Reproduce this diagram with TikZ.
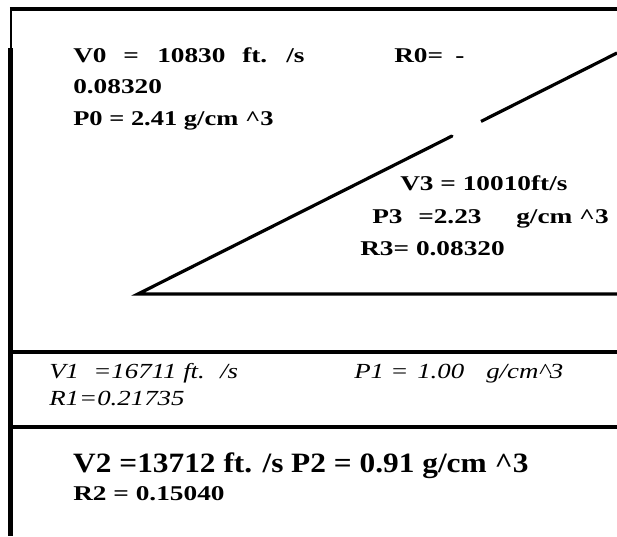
\documentclass[tikz,border=0pt]{standalone}
\usepackage{fontspec}
\setmainfont{Liberation Serif}
\usetikzlibrary{calc}
\begin{document}
\begin{tikzpicture}[x=1pt,y=-1pt,
  ln/.style={line width=3.2pt},
  bt/.style={anchor=base west, inner sep=0pt, font=\bfseries\fontsize{21}{21}\selectfont, xscale=1.3},
  it/.style={anchor=base west, inner sep=0pt, font=\itshape\fontsize{21.5}{21.5}\selectfont, xscale=1.25},
  big/.style={anchor=base west, inner sep=0pt, font=\bfseries\fontsize{28}{28}\selectfont, xscale=1.12}]
\useasboundingbox (0,0) rectangle (617,536);
\fill[white] (0,0) rectangle (617,536);
% frame
\coordinate (tl) at (11,7.4);
\coordinate (tr) at (617,9);
\coordinate (lk) at (10.3,48);
\coordinate (lb) at (10.3,536);
\draw[ln] (9.8,9) -- (tr);
\draw[line width=2pt] (tl) -- (11,536);
\draw[line width=4.6pt] (lk) -- (lb);
\coordinate (m1l) at (11,352); \coordinate (m1r) at (617,352);
\coordinate (m2l) at (11,427); \coordinate (m2r) at (617,427);
\draw[ln] (m1l) -- (m1r);
\draw[ln] (m2l) -- (m2r);
% wedge
\coordinate (A) at (138,294);
\coordinate (B) at (617,294);
\coordinate (C) at (617,53);
\draw[ln,line cap=round] ($(A)!0.6555!(C)$) -- (A) -- (B);
\draw[ln] ($(A)!0.7161!(C)$) -- (C);
% layer 0
\node[bt] (v0a) at (73,62) {V0};
\node[bt] (v0b) at (123,62) {=};
\node[bt] (v0c) at (157,62) {10830};
\node[bt] (v0d) at (242,62) {ft.};
\node[bt] (v0e) at (286,62) {/s};
\node[bt] (r0a) at (394,62) {R0=};
\node[bt] (r0b) at (455,62) {-};
\node[bt] (r0c) at (73,93) {0.08320};
\node[bt,xscale=0.97] (p0) at (73,125) {P0 = 2.41 g/cm \^{}3};
% layer 3
\node[bt] (v3) at (400,190) {V3 = 10010ft/s};
\node[bt] (p3a) at (372,223) {P3};
\node[bt] (p3b) at (418,223) {=2.23};
\node[bt] (p3c) at (516,223) {g/cm \^{}3};
\node[bt] (r3) at (360,255) {R3= 0.08320};
% layer 1
\node[it] (v1a) at (49,378) {V1};
\node[it] (v1b) at (93,378) {=16711};
\node[it] (v1c) at (183,378) {ft.};
\node[it] (v1d) at (220,378) {/s};
\node[it] (p1a) at (354,378) {P1};
\node[it] (p1b) at (390,378) {=};
\node[it] (p1c) at (417,378) {1.00};
\node[it] (p1d) at (486,378) {g/cm\^{}3};
\node[it] (r1) at (49,405) {R1=0.21735};
% layer 2
\node[big] (v2) at (73,472) {V2 =13712 ft. /s};
\node[big] (p2) at (291,472) {P2 = 0.91 g/cm \^{}3};
\node[bt] (r2) at (73,500) {R2 = 0.15040};
\end{tikzpicture}
\end{document}
